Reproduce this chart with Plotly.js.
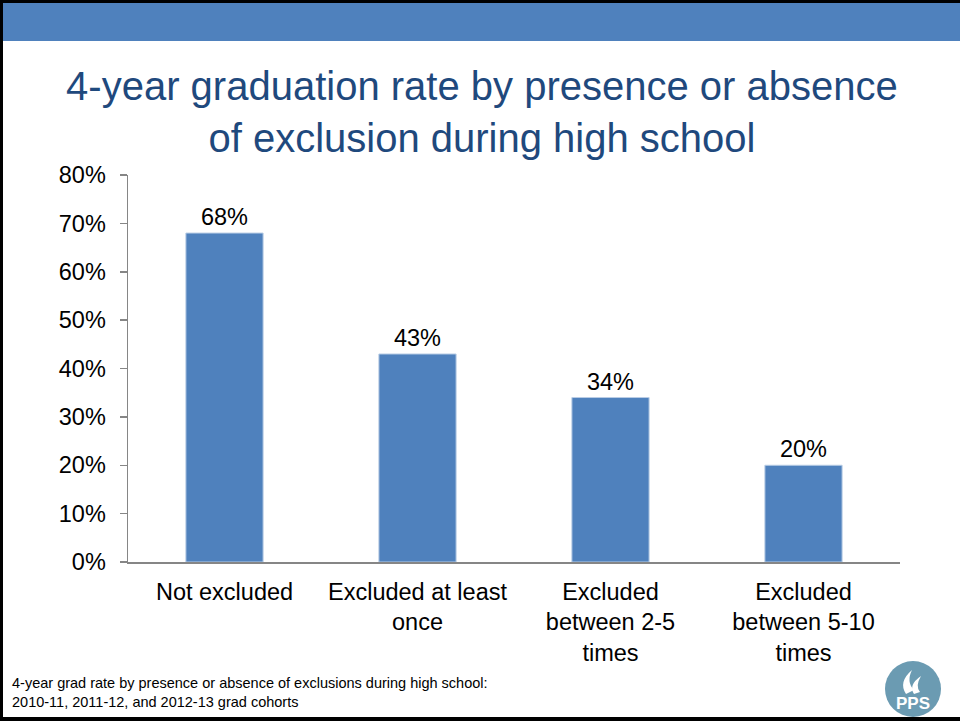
<!DOCTYPE html>
<html>
<head>
<meta charset="utf-8">
<script src="https://cdn.plot.ly/plotly-3.0.1.min.js"></script>
<style>
html,body{margin:0;padding:0;background:#fff;}
#chart{width:960px;height:721px;}
</style>
</head>
<body>
<div id="chart"></div>
<script>
const categories = [
  "Not excluded",
  "Excluded at least<br>once",
  "Excluded<br>between 2-5<br>times",
  "Excluded<br>between 5-10<br>times"
];
const gradRates = [0.68, 0.43, 0.34, 0.20];
const rateLabels = ["68%", "43%", "34%", "20%"];
const yTickVals = [0, 0.1, 0.2, 0.3, 0.4, 0.5, 0.6, 0.7, 0.8];
const yTickText = ["0%", "10%", "20%", "30%", "40%", "50%", "60%", "70%", "80%"];

// pixel helpers for decoration (plot area: x 128..900, y 175..562)
const L = 128, R = 900, T = 175, B = 562;
const px = x => (x - L) / (R - L);
const py = y => (B - y) / (B - T);

const trace = {
  type: "bar",
  x: categories,
  y: gradRates,
  text: rateLabels,
  textposition: "outside",
  cliponaxis: false,
  textfont: {family: "Liberation Sans, Arial, sans-serif", size: 23.5, color: "#000"},
  marker: {color: "#4F81BD", line: {color: "#B9CDE5", width: 1}},
  hoverinfo: "skip"
};

const layout = {
  width: 960,
  height: 721,
  margin: {l: L, r: 960 - R, t: T, b: 721 - B},
  paper_bgcolor: "#fff",
  plot_bgcolor: "#fff",
  showlegend: false,
  bargap: 0.6,
  font: {family: "Liberation Sans, Arial, sans-serif", color: "#000"},
  title: {
    text: "4-year graduation rate by presence or absence<br>of exclusion during high school",
    font: {family: "Liberation Sans, Arial, sans-serif", size: 40, color: "#1F497D"},
    x: 0.502, xanchor: "center",
    yref: "container", y: 1 - 100 / 721, yanchor: "top"
  },
  xaxis: {
    type: "category",
    showline: true, linecolor: "#868686", linewidth: 1.5,
    showgrid: false, zeroline: false,
    ticks: "",
    ticklabelstandoff: 8,
    tickfont: {size: 23.5, color: "#000"},
    fixedrange: true
  },
  yaxis: {
    range: [0, 0.8],
    tickvals: yTickVals,
    ticktext: yTickText,
    showline: true, linecolor: "#868686", linewidth: 1.5,
    ticks: "outside", ticklen: 7, tickcolor: "#868686", tickwidth: 1.5,
    ticklabelstandoff: 9,
    showgrid: false, zeroline: false,
    tickfont: {size: 23.5, color: "#000"},
    fixedrange: true
  },
  shapes: [
    // header band
    {type: "rect", xref: "paper", yref: "paper", x0: px(2), x1: px(961), y0: py(41), y1: py(3),
     fillcolor: "#4F81BD", line: {width: 0}, layer: "below"},
    // slide border
    {type: "line", xref: "paper", yref: "paper", x0: px(1.5), x1: px(1.5), y0: py(0), y1: py(721),
     line: {color: "#000", width: 3}},
    {type: "line", xref: "paper", yref: "paper", x0: px(0), x1: px(960), y0: py(1.5), y1: py(1.5),
     line: {color: "#000", width: 3}},
    {type: "line", xref: "paper", yref: "paper", x0: px(0), x1: px(960), y0: py(719), y1: py(719),
     line: {color: "#000", width: 4}},
    // PPS logo circle
    {type: "circle", xref: "paper", yref: "paper", x0: px(885), x1: px(941), y0: py(661), y1: py(717),
     fillcolor: "#6B9BB2", line: {width: 0}, layer: "above"},
    // flame strokes
    {type: "path", xref: "paper", yref: "paper",
     path: `M ${px(906)} ${py(694)} Q ${px(898)} ${py(682)} ${px(912)} ${py(670)} Q ${px(906)} ${py(682)} ${px(914)} ${py(690)} Z`,
     fillcolor: "#FFFFFF", line: {width: 0}},
    {type: "path", xref: "paper", yref: "paper",
     path: `M ${px(914)} ${py(694)} Q ${px(908)} ${py(685)} ${px(921)} ${py(676)} Q ${px(915)} ${py(686)} ${px(920)} ${py(692)} Z`,
     fillcolor: "#FFFFFF", line: {width: 0}}
  ],
  annotations: [
    {xref: "paper", yref: "paper", x: px(10), y: py(692), xanchor: "left", yanchor: "middle",
     align: "left", showarrow: false,
     text: "4-year grad rate by presence or absence of exclusions during high school:<br>2010-11, 2011-12, and 2012-13 grad cohorts",
     font: {size: 14.5, color: "#000"}},
    {xref: "paper", yref: "paper", x: px(913), y: py(703), xanchor: "center", yanchor: "middle",
     showarrow: false, text: "<b>PPS</b>",
     font: {size: 17, color: "#FFFFFF", family: "Liberation Sans, Arial, sans-serif"}}
  ]
};

Plotly.newPlot("chart", [trace], layout, {displayModeBar: false, staticPlot: true});
</script>
</body>
</html>
